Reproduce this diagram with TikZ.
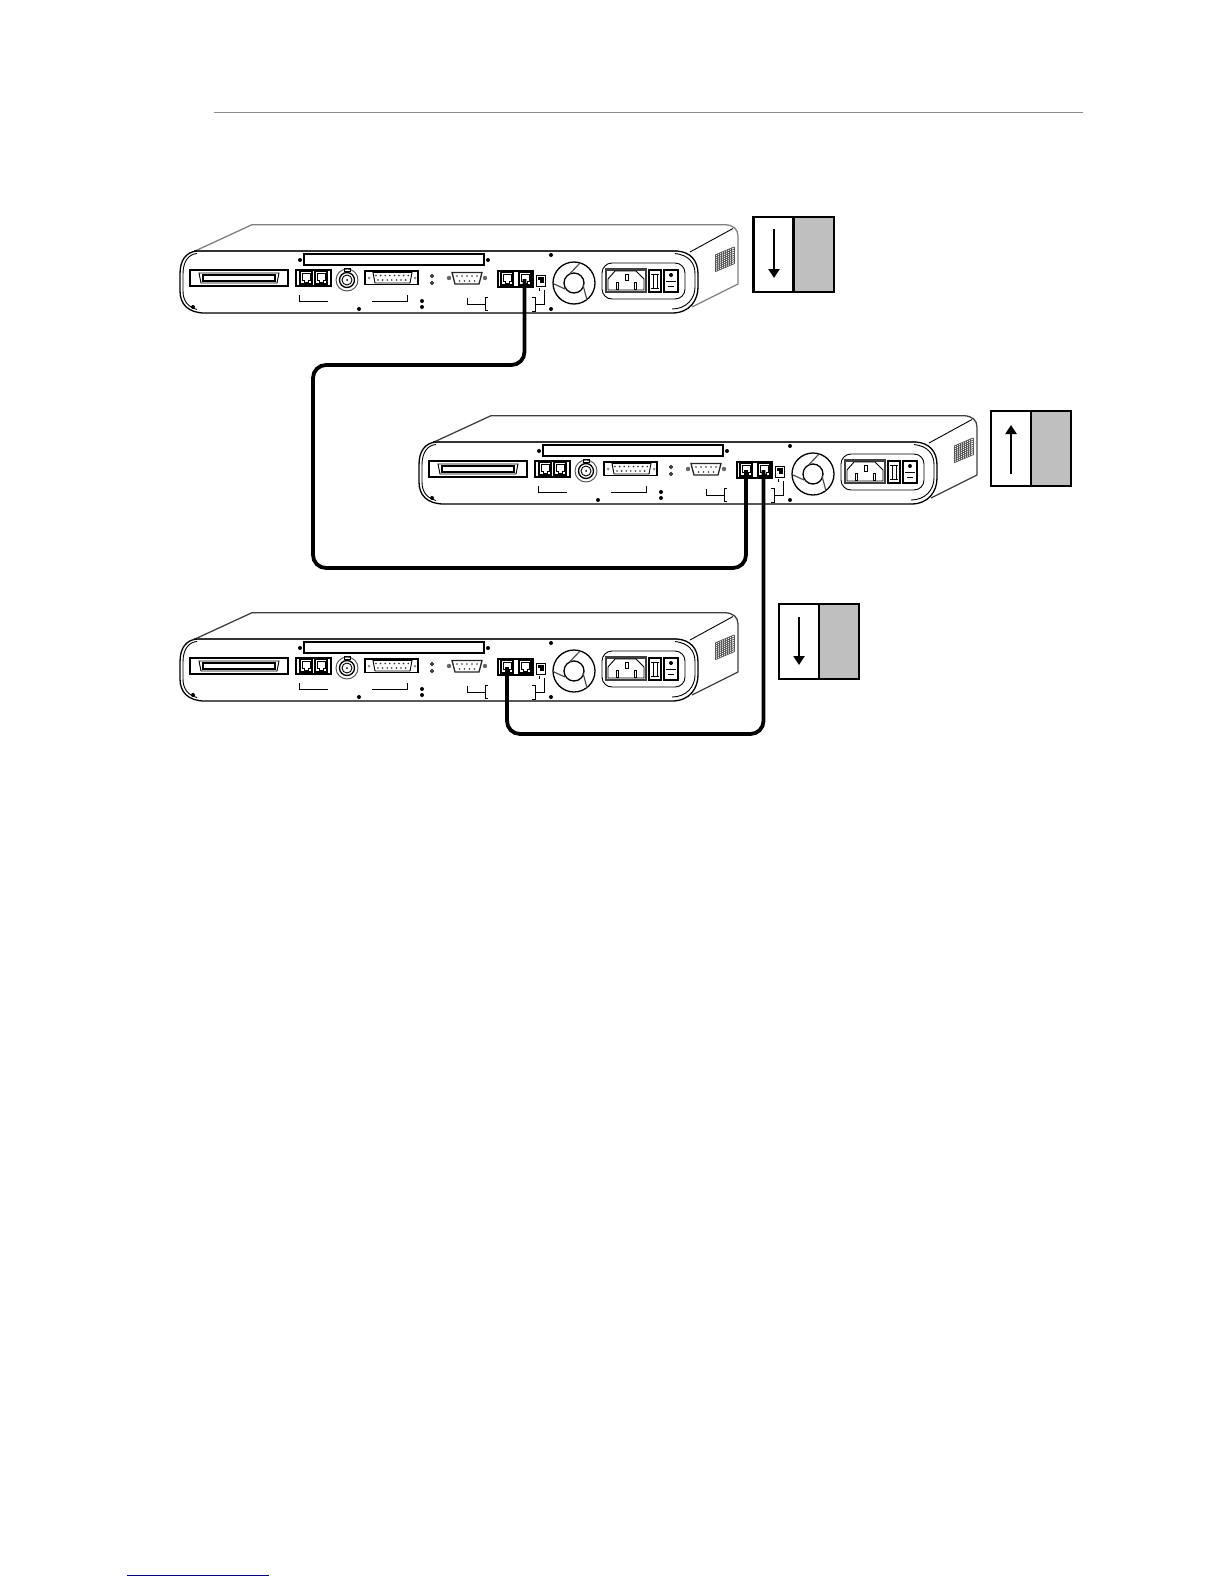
\documentclass[tikz,border=0pt]{standalone}
\usetikzlibrary{arrows.meta,calc}
\tikzset{
  thinl/.style={draw=black,line width=0.9pt},
  medl/.style={draw=black,line width=1.3pt},
  thickl/.style={draw=black,line width=2pt},
  screwdot/.style={fill=black,draw=none},
  cable/.style={draw=black,line width=3.8pt,rounded corners=13pt,line cap=butt},
  flowbox/.style={draw=black,line width=2.2pt,fill=white,minimum width=40pt,minimum height=75pt,inner sep=0pt,outer sep=0pt},
  shadebox/.style={draw=black,line width=2.2pt,fill=black!25,minimum width=40pt,minimum height=75pt,inner sep=0pt,outer sep=0pt},
  flowarrow/.style={draw=black,line width=2.6pt,-{Triangle[length=9pt,width=11pt]}},
  jack/.pic={
    \draw[medl] (-6,-7) rectangle (6,6);
    \draw[thinl] (-4,-5) -- (4,-5) -- (4,2) -- (2,2) -- (2,4) -- (-2,4) -- (-2,2) -- (-4,2) -- cycle;
  },
  device/.pic={
    % chassis top and side
    \draw[draw=devtop,line width=1.3pt,line join=round]
      (195,251) -- (252,224.7) -- (725,224.7)
      .. controls (733,225) and (738,229) .. (738,236) -- (738,284) -- (692,307);
    \draw[thinl] (690,252) -- (733,228.5);
    % front panel outer and inner outline
    \draw[line width=2pt,black!80] (194,251) -- (677,251);
    \draw[line width=1.3pt,black] (180,274) .. controls (180,260) and (186,252) .. (197,251)
      (677,251) .. controls (690,252) and (698,260) .. (698,274) -- (698,287)
      .. controls (698,300) and (690,313) .. (672,313) -- (205,313)
      (180,274) -- (180,291) .. controls (180,304) and (188,313) .. (205,313);
    \draw[thinl] (183,274) .. controls (183,261) and (189,254) .. (197,253.5)
      (675,253.5) .. controls (688,255) and (695,262) .. (695,274) -- (695,287)
      .. controls (695,299) and (686,309) .. (672,309)
      (183,274) -- (183,291) .. controls (183,301) and (188,307) .. (197,309.5);
    % card slot
    \draw[medl,fill=white] (304,254) rectangle (484,265);
    \foreach \p in {(300,260),(488,260),(551,255),(551,309),(359,309),(422,301),(422,307),(193,307)}
      \fill[screwdot] \p circle (2pt);
    % SCSI
    \draw[medl] (190,270) rectangle (288,286);
    \draw[thinl] (199,273) -- (279,273) -- (277,283) -- (201,283) -- cycle;
    \draw[medl] (203,275) rectangle (275,281);
    % jacks
    \draw[medl] (296,270) rectangle (331,286);
    \pic at (306,278) {jack};
    \pic at (321,278) {jack};
    % BNC
    \draw[thinl,black!70] (347,280) circle (11pt);
    \draw[medl] (347,280) circle (7.5pt);
    \draw[thinl] (347,280) circle (5pt);
    \fill (347,280) circle (1pt);
    \draw[thinl] (344,268) rectangle (350,271);
    % DB15
    \draw[medl] (365,271) rectangle (418,284.5);
    \draw[thinl] (373,272.5) -- (412,272.5) -- (410,283) -- (375,283) -- cycle;
    \foreach \i in {0,...,7} \fill[black!80] (376+\i*4.6,275.5) circle (0.9pt);
    \foreach \i in {0,...,6} \fill[black!80] (378+\i*4.6,280) circle (0.9pt);
    \fill[black!45] (369,278) circle (1.5pt) (415,278) circle (1.5pt);
    % LEDs
    \draw[thinl] (432,276) circle (1.5pt) (432,283) circle (1.5pt);
    % DB9
    \draw[medl,black!85] (452,272.5) -- (482,272.5) -- (479,284) -- (455,284) -- cycle;
    \foreach \i in {0,...,4} \fill[black!80] (457+\i*5,276) circle (0.9pt);
    \foreach \i in {0,...,3} \fill[black!80] (459.5+\i*5,281) circle (0.9pt);
    \fill[black!60] (449,278) circle (2.2pt) (485,278) circle (2.2pt);
    % brackets
    \draw[thinl] (299,295) -- (299,301) -- (328,301);
    \draw[thinl] (372,301) -- (407,301) -- (407,295);
    \draw[thinl] (467,298) -- (467,304) -- (485,304);
    \draw[thinl] (488,297.5) -- (485,297.5) -- (485,310.5) -- (488,310.5);
    \draw[thinl] (532,297.5) -- (535,297.5) -- (535,311) -- (532,311);
    \draw[thinl] (535,304) -- (544,304) -- (544,290);
    \draw[thinl] (539,288) -- (539,291);
    % network jacks
    \draw[thickl] (498,270.5) rectangle (533,287);
    \pic at (507,279) {jack};
    \pic at (525,279) {jack};
    \coordinate (-porta) at (507,279);
    \coordinate (-portb) at (524.5,279);
    % DIP switch
    \draw[thinl] (536,275) rectangle (545,286);
    \fill (537.5,277) rectangle (544,283);
    \fill[white] (537.5,279.5) rectangle (540,283);
    % fan
    \draw[medl] (574,283) circle (21pt);
    \draw[medl] (574,283) circle (10pt);
    \draw[black!70,line width=1.2pt] (570,273.5) -- (580,263)
      (554,284) -- (565,289)
      (583,285) -- (587,300);
    % power
    \draw[thinl,rounded corners=10pt] (602,263) rectangle (685,299);
    \draw[draw=black!75,line width=2.2pt] (606,269.5) rectangle (646,292);
    \draw[thinl] (608,279) -- (615,271) -- (636,271) -- (644,279) -- (644,290) -- (608,290) -- cycle;
    \draw[thinl] (616,282) rectangle (618.5,289);
    \draw[thinl] (634,282) rectangle (636.5,289);
    \draw[thinl] (625,274) rectangle (628,280);
    \draw[medl] (649,270) rectangle (661,292);
    \draw[thinl] (651,274) -- (659,274) (651,288) -- (659,288) (653,274) -- (653,288) (657,274) -- (657,288);
    \draw[medl] (664,270) rectangle (678,292);
    \draw[thinl] (666,281) -- (676,281);
    \fill (671,275) circle (2pt);
    \draw[line width=1.5pt] (668,286.5) -- (674,286.5);
    % vent
    \foreach \i in {0,...,9}
      \draw[black!65,line width=0.8pt] (715+\i*2.1,255-\i*0.9) -- (715+\i*2.1,272-\i*0.9);
    \foreach \j in {0,...,8}
      \draw[black!65,line width=0.8pt] (715,255+\j*2.1) -- (734,247+\j*2.1);
  }
}
\colorlet{devtop}{black}
\begin{document}
\begin{tikzpicture}[x=1pt,y=-1pt]
\useasboundingbox (0,0) rectangle (1224,1584);
% page rules
\coordinate (ruleL) at (214,112);
\coordinate (ruleR) at (1083,112);
\draw[black!45,line width=0.8pt] (ruleL) -- (ruleR);
\coordinate (footL) at (127,1575);
\coordinate (footR) at (269,1575);
\draw[blue!50!black,line width=1pt] (footL) -- (footR);
% devices
\begin{scope}
\colorlet{devtop}{black!50}
\pic (d1) at (0,0) {device};
\end{scope}
\begin{scope}
\colorlet{devtop}{black!75}
\pic (d2) at (239,191) {device};
\pic (d3) at (0,388) {device};
\end{scope}
% cables
\coordinate (b1a) at (524.5,365);
\coordinate (b1b) at (313,365);
\coordinate (b1c) at (313,568);
\coordinate (b1d) at (746,568);
\coordinate (b2a) at (763.5,734);
\coordinate (b2b) at (507,734);
\draw[cable] (d1-portb) -- (b1a) -- (b1b) -- (b1c) -- (b1d) -- (d2-porta);
\draw[cable] (d2-portb) -- (b2a) -- (b2b) -- (d3-porta);
% flow boxes
\node[flowbox] (boxAw) at (773.5,254.5) {};
\node[shadebox] (boxAg) at (814,254.5) {};
\coordinate (arAs) at (774,229);
\coordinate (arAe) at (774,278);
\draw[flowarrow] (arAs) -- (arAe);
\node[flowbox] (boxBw) at (1011,448.5) {};
\node[shadebox] (boxBg) at (1051,448.5) {};
\coordinate (arBs) at (1011,474);
\coordinate (arBe) at (1011,425);
\draw[flowarrow] (arBs) -- (arBe);
\node[flowbox] (boxCw) at (799,641.5) {};
\node[shadebox] (boxCg) at (839,641.5) {};
\coordinate (arCs) at (799,617);
\coordinate (arCe) at (799,665);
\draw[flowarrow] (arCs) -- (arCe);
\end{tikzpicture}
\end{document}
